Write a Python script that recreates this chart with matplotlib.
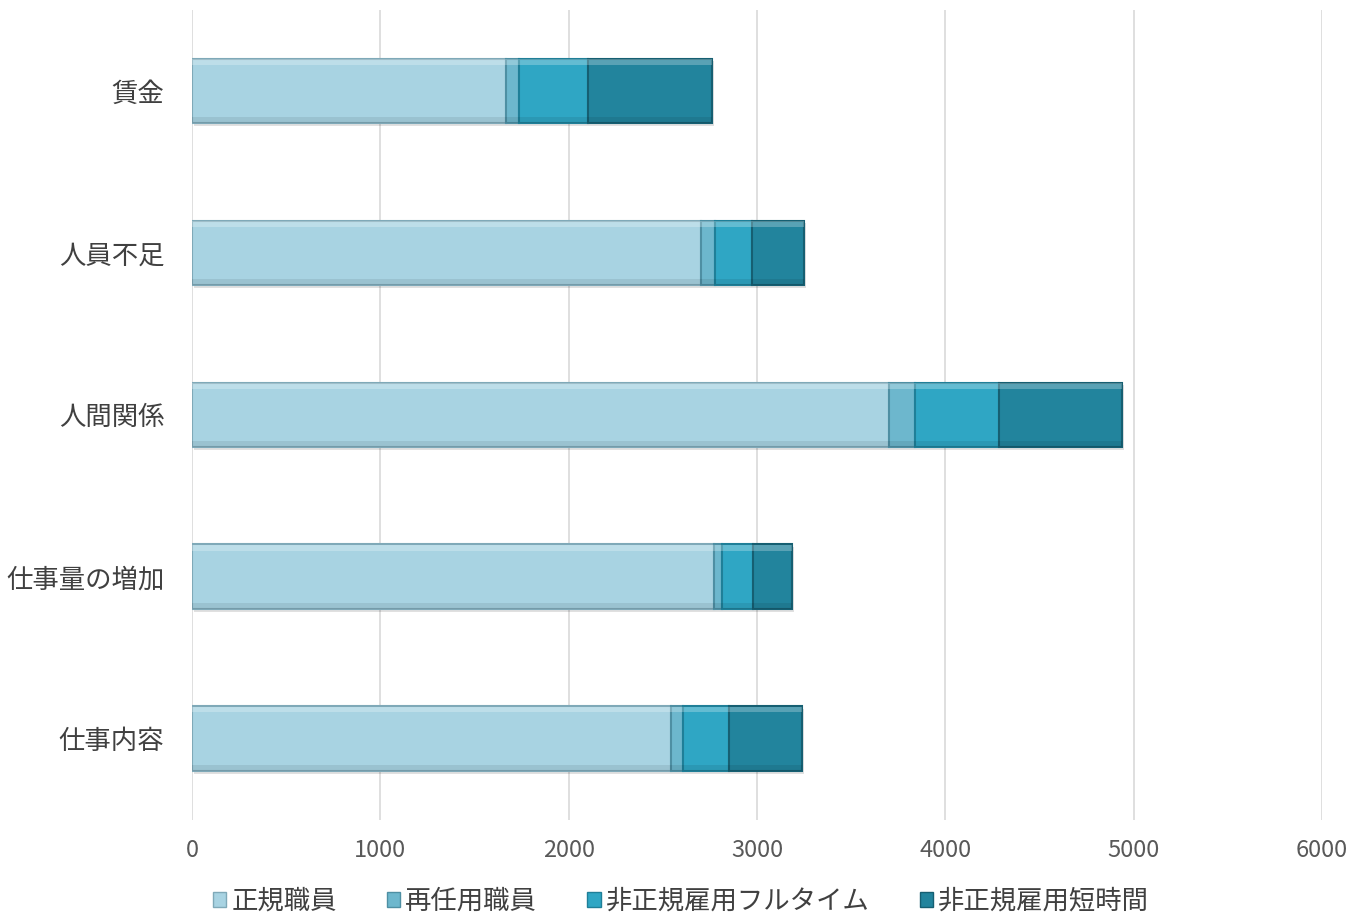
import matplotlib
matplotlib.use("Agg")
import matplotlib.pyplot as plt
from matplotlib.patches import Patch
import numpy as np

plt.rcParams['font.family'] = ['Noto Sans CJK JP', 'DejaVu Sans']

categories = ["仕事内容", "仕事量の増加", "人間関係", "人員不足", "賃金"]
series_names = ["正規職員", "再任用職員", "非正規雇用フルタイム", "非正規雇用短時間"]
seiki = [2544, 2772, 3702, 2703, 1668]
sainin = [64, 43, 138, 74, 69]
full_time = [244, 164, 446, 197, 366]
tanjikan = [387, 207, 653, 276, 659]
colors = ["#a8d3e2", "#6db7cd", "#2fa6c4", "#22849d"]
edges = ["#7fa9b8", "#4e8fa3", "#1f7f98", "#165f72"]

fig = plt.figure(figsize=(13.62, 9.18), dpi=100)
ax = fig.add_axes([0.141, 0.107, 0.8296, 0.882])

y = np.arange(len(categories))
left = np.zeros(len(categories))
for vals, name, c, ec in zip([seiki, sainin, full_time, tanjikan], series_names, colors, edges):
    vals = np.array(vals)
    # soft shadow
    ax.barh(y - 0.015, vals, left=left + 8, height=0.4, color="#000000", alpha=0.12,
            linewidth=0, zorder=2)
    ax.barh(y, vals, left=left, height=0.4, color=c, edgecolor=ec, linewidth=1.5,
            label=name, zorder=3)
    # bevel: light top edge, darker bottom edge
    ax.barh(y + 0.18, vals, left=left, height=0.035, color="white", alpha=0.25,
            linewidth=0, zorder=4)
    ax.barh(y - 0.18, vals, left=left, height=0.035, color="black", alpha=0.08,
            linewidth=0, zorder=4)
    left += vals

ax.set_xlim(0, 6000)
ax.set_ylim(-0.5, 4.5)
ax.set_xticks(range(0, 6001, 1000))
ax.set_yticks(y)
ax.set_yticklabels(categories, fontsize=19, color="#404040")
ax.tick_params(axis='x', labelsize=17, colors="#595959", length=0, pad=14)
ax.tick_params(axis='y', length=0, pad=20)
ax.grid(axis='x', color="#d9d9d9", linewidth=1.2, zorder=0)
ax.set_axisbelow(True)
for s in ax.spines.values():
    s.set_visible(False)

handles = [Patch(facecolor=c, edgecolor=ec) for c, ec in zip(colors, edges)]
fig.legend(handles, series_names, loc="lower center", bbox_to_anchor=(0.5, -0.022), ncol=4,
           frameon=False, fontsize=19, handlelength=0.5, handleheight=0.5,
           handletextpad=0.2, columnspacing=1.9, labelcolor="#404040")

fig.savefig("out.png", dpi=100)
